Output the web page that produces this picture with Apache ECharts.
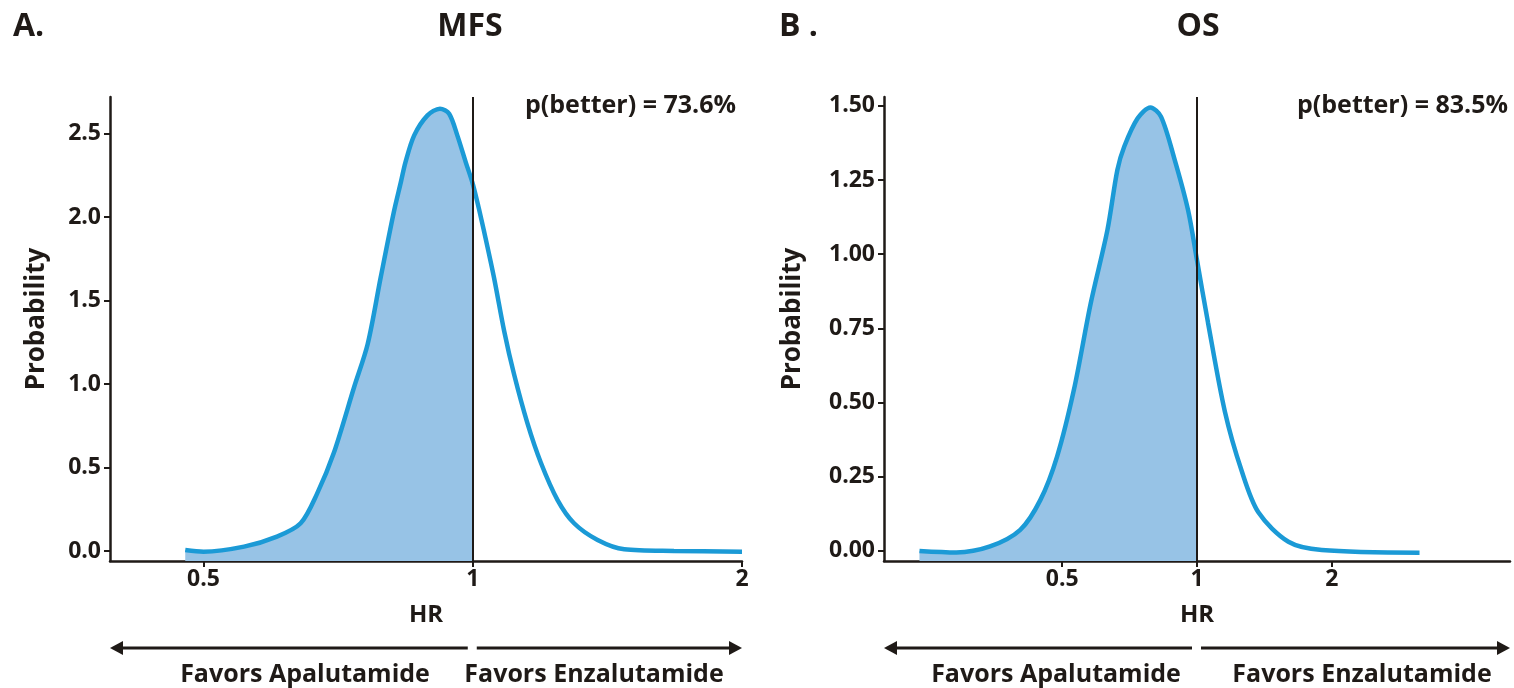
<!DOCTYPE html>
<html>
<head>
<meta charset="utf-8">
<script src="https://cdn.jsdelivr.net/npm/echarts@6/dist/echarts.min.js"></script>
<style>
  html, body { margin: 0; padding: 0; background: #fff; }
  #main { width: 1514px; height: 688px; }
</style>
</head>
<body>
<div id="main"></div>
<script>
// MFS panel: hazard ratio vs density
const mfsHR = [0.477, 0.5, 0.555, 0.604, 0.642, 0.670, 0.699, 0.737, 0.763, 0.789, 0.816, 0.831, 0.841, 0.860,
  0.890, 0.919, 0.941, 0.961, 0.982, 1.0, 1.016, 1.029, 1.056, 1.084, 1.112, 1.151, 1.192, 1.244, 1.298,
  1.379, 1.477, 1.679, 2.0]
const mfsDensity = [0.006, -0.004, 0.026, 0.086, 0.166, 0.345, 0.585, 0.984, 1.24, 1.64, 2.03, 2.21, 2.33, 2.49,
  2.61, 2.65, 2.62, 2.49, 2.33, 2.20, 2.05, 1.92, 1.64, 1.32, 1.06, 0.766, 0.527, 0.305, 0.166,
  0.066, 0.01, 0.0, -0.004]

// OS panel
const osHR = [0.240, 0.290, 0.345, 0.403, 0.447, 0.487, 0.531, 0.579, 0.631, 0.664, 0.688, 0.737, 0.787, 0.831,
  0.891, 0.955, 1.0, 1.058, 1.154, 1.258, 1.371, 1.6, 1.90, 3.14]
const osDensity = [0.0, -0.005, 0.015, 0.071, 0.172, 0.318, 0.543, 0.835, 1.082, 1.284, 1.363, 1.458, 1.495, 1.464,
  1.32, 1.149, 0.98, 0.77, 0.47, 0.27, 0.13, 0.031, 0.003, -0.006]

const xTicks = [0.5, 1, 2]
const mfsYTicks = [0, 0.5, 1, 1.5, 2, 2.5]
const osYTicks = [0, 0.25, 0.5, 0.75, 1, 1.25, 1.5]
const panelTitles = ['MFS', 'OS']
const panelLetters = ['A.', 'B .']
const pBetter = ['p(better) = 73.6%', 'p(better) = 83.5%']
const favorLabels = ['Favors Apalutamide', 'Favors Enzalutamide']

const FONT = '"Open Sans"'
const INK = '#1f1a17'
const CURVE = '#1b9ad6'
const FILL = '#97c3e6'

const chart = echarts.init(document.getElementById('main'))

function pairs(xs, ys) {
  return xs.map((x, i) => [x, ys[i]])
}

function xAxisFor(idx, min, max) {
  return {
    type: 'log', logBase: 2, gridIndex: idx, min: min, max: max,
    name: 'HR', nameLocation: 'middle', nameGap: 42,
    nameTextStyle: { fontFamily: FONT, fontWeight: 'bold', fontSize: 24, color: INK },
    axisLine: { onZero: false, lineStyle: { color: INK, width: 2.5 } },
    axisTick: { length: 6, lineStyle: { color: INK, width: 2 }, customValues: xTicks },
    axisLabel: { customValues: xTicks, margin: 7, fontFamily: FONT, fontWeight: 'bold', fontSize: 23, color: INK },
    splitLine: { show: false }
  }
}

function yAxisFor(idx, min, max, ticks, digits, gap) {
  return {
    type: 'value', gridIndex: idx, min: min, max: max,
    name: 'Probability', nameLocation: 'middle', nameRotate: 90, nameGap: gap,
    nameTextStyle: { fontFamily: FONT, fontWeight: 'bold', fontSize: 26, color: INK, padding: [0, 0, 0, 20] },
    axisLine: { show: true, lineStyle: { color: INK, width: 2.5 } },
    axisTick: { show: true, length: 6, lineStyle: { color: INK, width: 2 }, customValues: ticks },
    axisLabel: {
      customValues: ticks, margin: 9, fontFamily: FONT, fontWeight: 'bold', fontSize: 23, color: INK,
      formatter: v => v.toFixed(digits)
    },
    splitLine: { show: false }
  }
}

function panelSeries(idx, hr, dens) {
  const all = pairs(hr, dens)
  const left = all.filter(p => p[0] <= 1)
  return [
    {
      type: 'line', xAxisIndex: idx, yAxisIndex: idx, data: left, smooth: 0.3,
      showSymbol: false, lineStyle: { width: 0 }, z: 1,
      areaStyle: { color: FILL, opacity: 1, origin: 'start' }
    },
    {
      type: 'line', xAxisIndex: idx, yAxisIndex: idx, data: all, smooth: 0.3,
      showSymbol: false, lineStyle: { width: 4.5, color: CURVE }, z: 3,
      markLine: {
        silent: true, symbol: 'none', label: { show: false },
        lineStyle: { color: INK, width: 2, type: 'solid' },
        data: [{ xAxis: 1 }]
      }
    }
  ]
}

chart.setOption({
  animation: false,
  grid: [
    { left: 110, right: 772, top: 97, bottom: 127 },
    { left: 884, right: 4, top: 97, bottom: 127 }
  ],
  xAxis: [xAxisFor(0, 0.393, 2), xAxisFor(1, 0.2, 5)],
  yAxis: [
    yAxisFor(0, -0.06, 2.72, mfsYTicks, 1, 60),
    yAxisFor(1, -0.034, 1.53, osYTicks, 2, 78)
  ],
  series: [...panelSeries(0, mfsHR, mfsDensity), ...panelSeries(1, osHR, osDensity)]
})

// annotations placed from the axes
const textStyle = (size) => ({ fontFamily: FONT, fontWeight: 'bold', fontSize: size, fill: INK })
const graphics = []
const titleX = [470, 1198]
const letterX = [13, 779]
const pRight = [736, 1508]
const favorX = [[305, 594], [1056, 1362]]
const axisEnds = [[0.393, 2], [0.2, 5]]

for (let i = 0; i < 2; i++) {
  const x1 = chart.convertToPixel({ xAxisIndex: i }, 1)
  const xa = chart.convertToPixel({ xAxisIndex: i }, axisEnds[i][0])
  const xb = chart.convertToPixel({ xAxisIndex: i }, axisEnds[i][1])
  const ay = 648
  graphics.push(
    { type: 'text', x: letterX[i], y: 27, style: { text: panelLetters[i], ...textStyle(32), textVerticalAlign: 'middle' } },
    { type: 'text', x: titleX[i], y: 27, style: { text: panelTitles[i], ...textStyle(32), textAlign: 'center', textVerticalAlign: 'middle' } },
    { type: 'text', x: pRight[i], y: 106, style: { text: pBetter[i], ...textStyle(25), textAlign: 'right', textVerticalAlign: 'middle' } },
    { type: 'line', shape: { x1: xa + 8, y1: ay, x2: x1 - 5, y2: ay }, style: { stroke: INK, lineWidth: 3 } },
    { type: 'line', shape: { x1: x1 + 4, y1: ay, x2: xb - 8, y2: ay }, style: { stroke: INK, lineWidth: 3 } },
    { type: 'polygon', shape: { points: [[xa, ay], [xa + 13, ay - 7], [xa + 13, ay + 7]] }, style: { fill: INK } },
    { type: 'polygon', shape: { points: [[xb, ay], [xb - 13, ay - 7], [xb - 13, ay + 7]] }, style: { fill: INK } },
    { type: 'text', x: favorX[i][0], y: 675, style: { text: favorLabels[0], ...textStyle(25), textAlign: 'center', textVerticalAlign: 'middle' } },
    { type: 'text', x: favorX[i][1], y: 675, style: { text: favorLabels[1], ...textStyle(25), textAlign: 'center', textVerticalAlign: 'middle' } }
  )
}

chart.setOption({ graphic: graphics })
</script>
</body>
</html>
